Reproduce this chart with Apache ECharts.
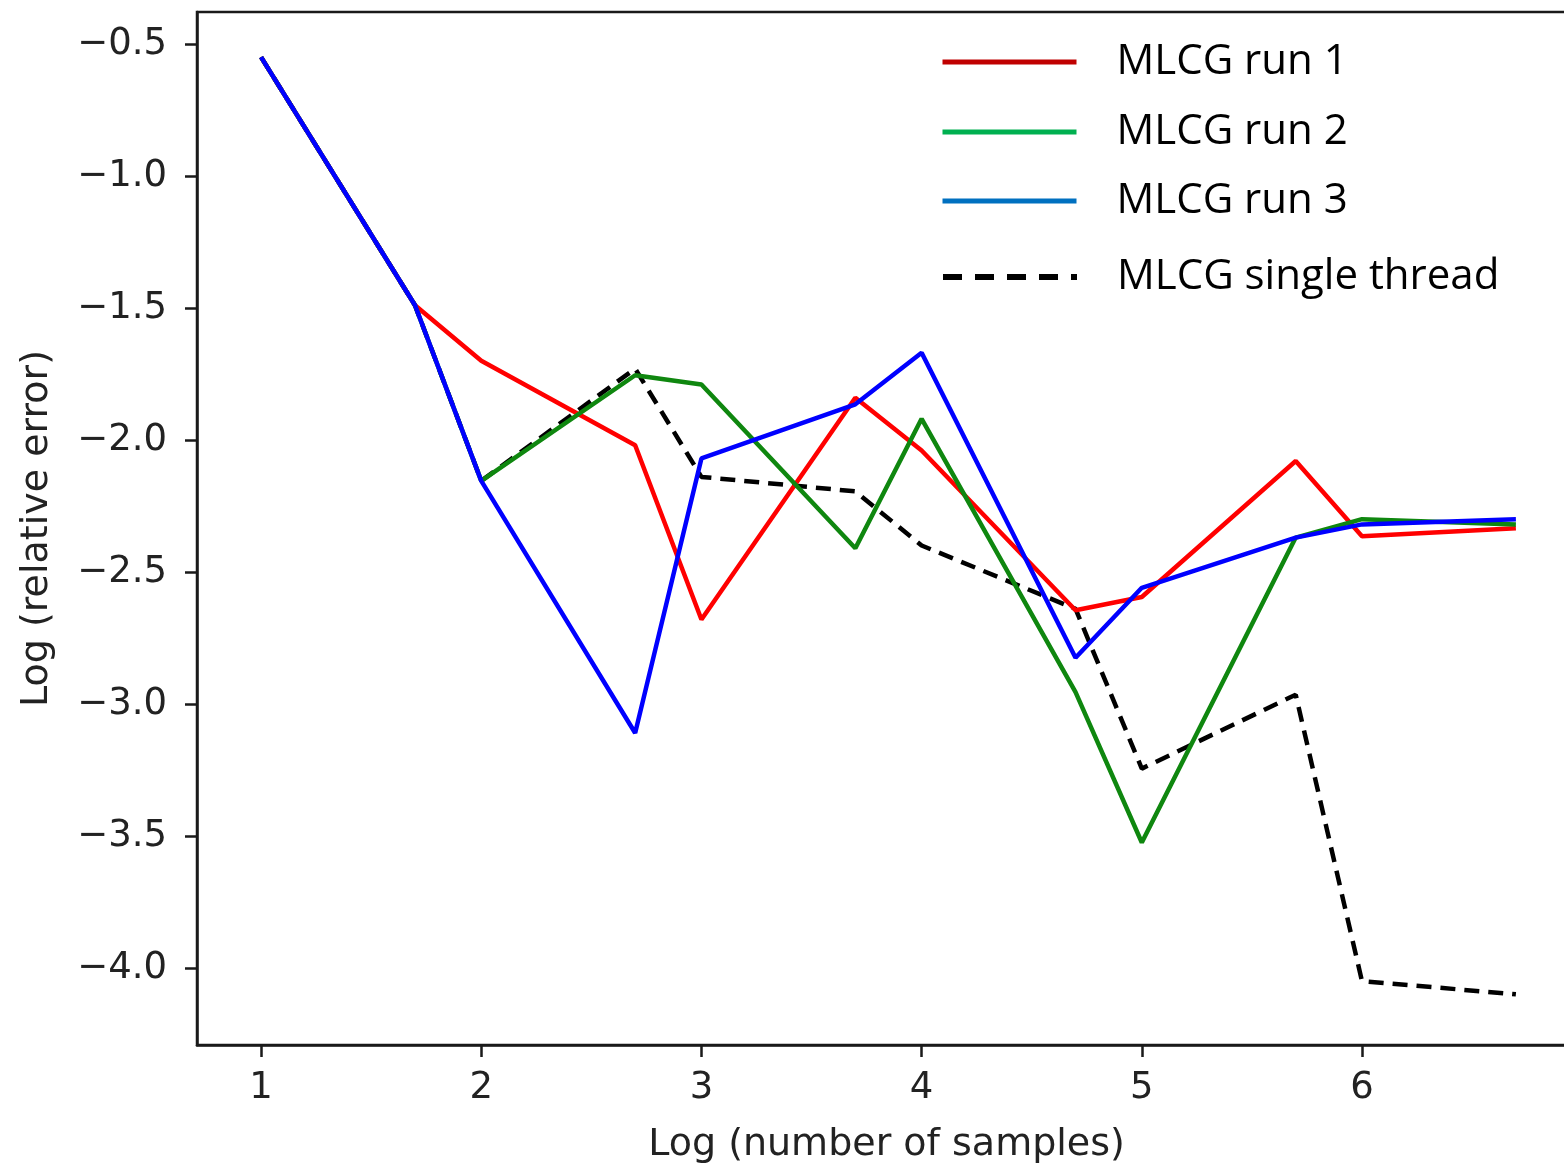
<!DOCTYPE html>
<html>
<head>
<meta charset="utf-8">
<title>MLCG relative error</title>
<script src="https://cdn.jsdelivr.net/npm/echarts@6.0.0/dist/echarts.min.js"></script>
<style>
    html, body { margin: 0; padding: 0; background: #fff; }
    #main { width: 1564px; height: 1165px; }
</style>
</head>
<body>
<div id="main"></div>
<script>
// 数据 (横轴: log10 样本数)
let xVals = [1, 1.699, 2, 2.699, 3, 3.699, 4, 4.699, 5, 5.699, 6, 6.699];
let run1 = [-0.55, -1.49, -1.70, -2.02, -2.68, -1.84, -2.04, -2.645, -2.595, -2.08, -2.365, -2.335];
let run2 = [-0.55, -1.49, -2.155, -1.755, -1.79, -2.41, -1.92, -2.955, -3.525, -2.37, -2.30, -2.32];
let run3 = [-0.55, -1.49, -2.155, -3.11, -2.07, -1.865, -1.67, -2.825, -2.56, -2.37, -2.32, -2.30];
let single = [-0.55, -1.49, -2.155, -1.73, -2.14, -2.195, -2.40, -2.64, -3.245, -2.965, -4.05, -4.10];

// 刻度
let xTicks = [1, 2, 3, 4, 5, 6];
let yTicks = [-4.0, -3.5, -3.0, -2.5, -2.0, -1.5, -1.0, -0.5];

let names = ['MLCG run 1', 'MLCG run 2', 'MLCG run 3', 'MLCG single thread'];

let pair = (arr) => arr.map((v, i) => [xVals[i], v]);

let axisColor = '#1a1a1a';
let tickFont = 'DejaVu Sans';

let mychart = echarts.init(document.getElementById('main'));

// 图例 (每一项单独放, 方便控制位置)
let legendItem = (name, top, color, type) => ({
    left: 940,
    top: top,
    padding: 0,
    orient: 'horizontal',
    selectedMode: false,
    itemWidth: 134,
    itemHeight: 14,
    data: [{
        name: name,
        itemStyle: { opacity: 0 },
        lineStyle: { color: color, width: type === 'solid' ? 5 : 6, type: type }
    }],
    textStyle: {
        fontFamily: 'Open Sans',
        fontSize: 42,
        color: '#000',
        lineHeight: 50,
        padding: [0, 0, 0, 35]
    }
});

let option = {
    animation: false,
    backgroundColor: '#fff',
    grid: {
        left: 197,
        top: 12,
        right: -12,
        bottom: 120,
        outerBoundsMode: 'none',
        show: true,
        borderColor: axisColor,
        borderWidth: 2.5,
        backgroundColor: 'transparent'
    },
    legend: [
        legendItem(names[0], 37, '#c00000', 'solid'),
        legendItem(names[1], 107, '#00b050', 'solid'),
        legendItem(names[2], 176, '#0070c0', 'solid'),
        legendItem(names[3], 252, '#000000', [19, 13])
    ],
    xAxis: {
        type: 'value',
        min: 0.709,
        max: 6.972,
        name: 'Log (number of samples)',
        nameLocation: 'middle',
        nameGap: 81,
        nameTextStyle: { fontFamily: tickFont, fontSize: 38, color: '#222' },
        axisLine: { show: true, lineStyle: { color: axisColor, width: 2.5 } },
        axisTick: {
            show: true,
            length: 12,
            customValues: xTicks,
            lineStyle: { color: axisColor, width: 2.5 }
        },
        axisLabel: {
            customValues: xTicks,
            margin: 25,
            fontFamily: tickFont,
            fontSize: 37,
            color: '#222',
            formatter: (v) => String(v)
        },
        splitLine: { show: false }
    },
    yAxis: {
        type: 'value',
        min: -4.292,
        max: -0.379,
        name: 'Log (relative error)',
        nameLocation: 'middle',
        nameGap: 141,
        nameTextStyle: { fontFamily: tickFont, fontSize: 38, color: '#222' },
        axisLine: { show: true, lineStyle: { color: axisColor, width: 2.5 } },
        axisTick: {
            show: true,
            length: 12,
            customValues: yTicks,
            lineStyle: { color: axisColor, width: 2.5 }
        },
        axisLabel: {
            customValues: yTicks,
            margin: 30,
            fontFamily: tickFont,
            fontSize: 37,
            color: '#222',
            formatter: (v) => v.toFixed(1).replace('-', '\u2212')
        },
        splitLine: { show: false }
    },
    series: [
        {
            name: names[3],
            type: 'line',
            data: pair(single),
            symbol: 'none',
            z: 1,
            lineStyle: { color: '#000', width: 4.5, type: [15, 9] },
            itemStyle: { color: '#000' }
        },
        {
            name: names[0],
            type: 'line',
            data: pair(run1),
            symbol: 'none',
            z: 2,
            lineStyle: { color: '#ff0000', width: 4.5 },
            itemStyle: { color: '#ff0000' }
        },
        {
            name: names[1],
            type: 'line',
            data: pair(run2),
            symbol: 'none',
            z: 3,
            lineStyle: { color: '#0f870f', width: 4.5 },
            itemStyle: { color: '#0f870f' }
        },
        {
            name: names[2],
            type: 'line',
            data: pair(run3),
            symbol: 'none',
            z: 4,
            lineStyle: { color: '#0000ff', width: 4.5 },
            itemStyle: { color: '#0000ff' }
        }
    ]
};

mychart.setOption(option);
</script>
</body>
</html>
